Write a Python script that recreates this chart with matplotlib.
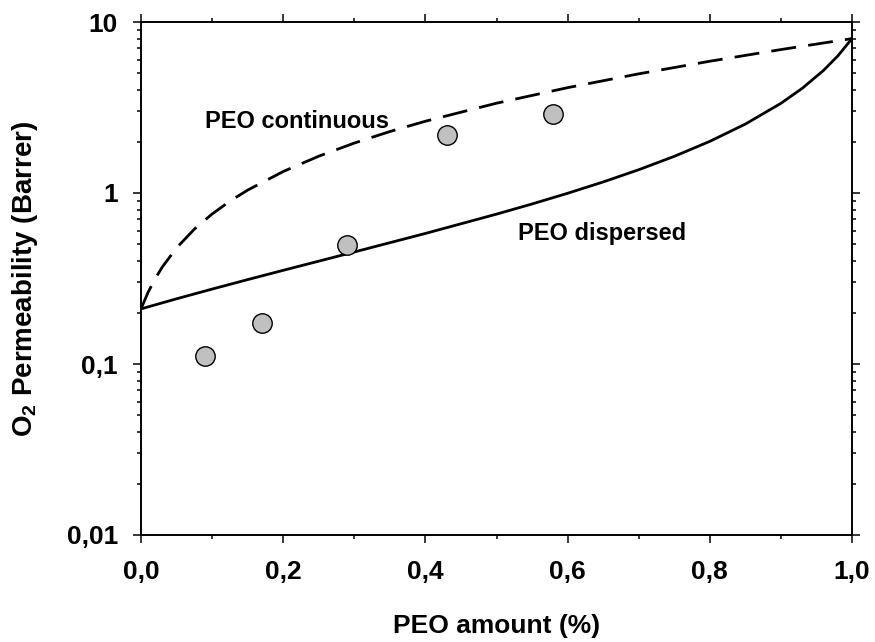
import matplotlib
matplotlib.use("Agg")
import matplotlib.pyplot as plt
from matplotlib.ticker import FixedLocator, LogLocator, FuncFormatter, NullFormatter

plt.rcParams["font.family"] = ["Liberation Sans", "DejaVu Sans"]
plt.rcParams["font.weight"] = "bold"
plt.rcParams["mathtext.fontset"] = "custom"
plt.rcParams["mathtext.rm"] = "Liberation Sans:bold"
plt.rcParams["mathtext.bf"] = "Liberation Sans:bold"
plt.rcParams["mathtext.default"] = "bf"

# Measured O2 permeability of the blends
peo_fraction = [0.09, 0.17, 0.29, 0.43, 0.58]
permeability = [0.112, 0.173, 0.496, 2.18, 2.90]

# Model curve: PEO as the dispersed phase
disp_x = [0.0, 0.05, 0.10, 0.15, 0.20, 0.30, 0.40, 0.50, 0.55, 0.60, 0.65,
          0.70, 0.75, 0.80, 0.85, 0.90, 0.93, 0.96, 0.98, 1.00]
disp_y = [0.210, 0.2406, 0.2742, 0.3115, 0.3530, 0.4520, 0.5801, 0.7523,
          0.8627, 0.9961, 1.1604, 1.3679, 1.638, 2.0044, 2.5295, 3.3448,
          4.0934, 5.2137, 6.3306, 8.0]

# Model curve: PEO as the continuous phase
cont_x = [0.0, 0.01, 0.02, 0.03, 0.05, 0.075, 0.10, 0.125, 0.15, 0.20, 0.25,
          0.30, 0.35, 0.40, 0.50, 0.60, 0.70, 0.80, 0.90, 1.00]
cont_y = [0.210, 0.2628, 0.3159, 0.3694, 0.4774, 0.6145, 0.7538, 0.8955,
          1.0396, 1.3353, 1.6415, 1.9587, 2.2875, 2.6286, 3.3504, 4.1304,
          4.9759, 5.8955, 6.8995, 8.0]

x_ticks = [0.0, 0.2, 0.4, 0.6, 0.8, 1.0]
y_ticks = [0.01, 0.1, 1, 10]
y_tick_labels = ["0,01", "0,1", "1", "10"]

fig = plt.figure(figsize=(8.75, 6.42), dpi=100)
ax = fig.add_axes([141 / 875, 1 - 535 / 642, 711 / 875, 513 / 642])

ax.plot(disp_x, disp_y, color="black", lw=2.0, solid_capstyle="butt")
ax.plot(cont_x, cont_y, color="black", lw=2.0, dashes=(9, 4.4))
ax.plot(peo_fraction, permeability, "o", ms=14, mfc="#c0c0c0",
        mec="black", mew=1.0, zorder=3)

ax.set_yscale("log")
ax.set_xlim(0, 1)
ax.set_ylim(0.01, 10)

ax.xaxis.set_major_locator(FixedLocator(x_ticks))
ax.xaxis.set_minor_locator(FixedLocator([0.1, 0.3, 0.5, 0.7, 0.9]))
ax.xaxis.set_major_formatter(FuncFormatter(lambda v, p: f"{v:.1f}".replace(".", ",")))
ax.yaxis.set_major_locator(FixedLocator(y_ticks))
ax.yaxis.set_major_formatter(FuncFormatter(
    lambda v, p: y_tick_labels[y_ticks.index(min(y_ticks, key=lambda t: abs(t - v)))]))
ax.yaxis.set_minor_locator(LogLocator(base=10, subs=range(2, 10)))
ax.yaxis.set_minor_formatter(NullFormatter())

for s in ax.spines.values():
    s.set_linewidth(1.4)

ax.tick_params(which="both", direction="out", top=True, right=True,
               width=1.1, labelsize=19)
ax.tick_params(which="major", length=5.5)
ax.tick_params(which="minor", length=3.2)
ax.tick_params(axis="x", which="major", pad=12.5)
ax.tick_params(axis="y", which="major", pad=11)
for lab in ax.get_xticklabels() + ax.get_yticklabels():
    lab.set_fontweight("bold")

ax.set_xlabel("PEO amount (%)", fontsize=19, fontweight="bold")
ax.xaxis.set_label_coords(0.5, -0.154)
ax.set_ylabel("O$_2$ Permeability (Barrer)", fontsize=20, fontweight="bold")
ax.yaxis.set_label_coords(-0.142, 0.5)

ax.text(0.09, 2.40, "PEO continuous", fontsize=17, fontweight="bold",
        ha="left", va="baseline")
ax.text(0.53, 0.53, "PEO dispersed", fontsize=17, fontweight="bold",
        ha="left", va="baseline")

fig.savefig("out.png", dpi=100)
